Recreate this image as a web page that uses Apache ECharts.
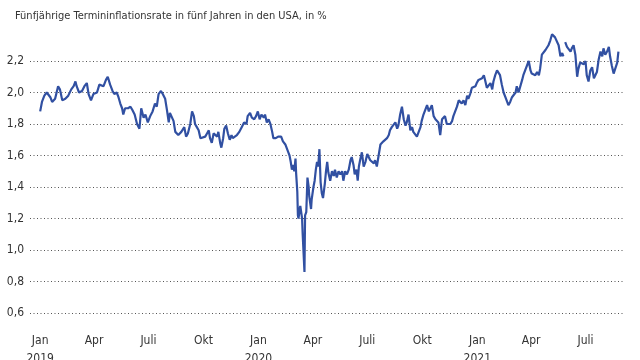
<!DOCTYPE html>
<html><head><meta charset="utf-8">
<script src="https://cdn.jsdelivr.net/npm/echarts@6/dist/echarts.min.js"></script>
<style>html,body{margin:0;padding:0;background:#fff}#c{width:640px;height:360px}</style>
</head><body><div id="c"></div>
<script>
const TITLE = 'Fünfjährige Termininflationsrate in fünf Jahren in den USA, in %';
// days after 2019-01-01
const dayOffsets = [0,3,7,11,13,17,20,22,25,30,33,37,42,47,52,56,59,61,65,70,74,78,81,85,89,95,99,102,106,110,113,117,121,124,128,131,134,137,139,142,147,151,154,158,162,166,169,173,176,180,184,188,192,195,198,202,205,209,212,215,217,220,223,226,229,231,236,239,241,244,247,251,254,257,259,262,265,268,271,276,279,282,284,287,290,293,296,298,301,303,306,308,311,314,317,320,322,325,329,333,337,341,345,347,351,354,358,361,364,367,370,374,376,379,382,385,388,390,394,398,400,403,406,410,413,415,417,419,421,423,425,427,428,430,431,432,434,435,438,439,442,443,445,447,449,450,453,454,457,459,461,463,465,467,469,471,473,476,478,480,482,485,488,491,493,496,499,502,505,507,510,513,516,519,521,524,526,529,531,533,535,538,541,544,547,549,552,555,558,560,563,566,569,572,574,577,580,583,585,588,591,594,597,599,602,605,608,611,613,616,619,622,624,627,630,633,636,638,641,644,647,650,652,655,658,661,664,666,669,672,675,677,680,683,686,689,691,694,697,700,703,705,708,711,714,716,719,722,725,728,730,733,736,739,742,744,747,750,753,756,758,761,764,767,769,772,775,778,781,783,786,789,792,795,797,800,803,806,808,811,814,817,820,822,825,828,831,834,836,839,842,845,848,850,853,856,859,861,864,867,870,873,875,876,878,881,884,887,889,892,895,898,900,903,906,909,912,914,917,920,923,926,928,931,934,937,940,942,945,948,951,953,956,959,962,965,967];
const rate = [1.88,1.94,1.98,2.00,2.00,1.97,1.94,1.93,1.96,2.04,2.02,1.95,1.96,1.98,2.02,2.04,2.07,2.04,2.00,2.01,2.04,2.06,1.99,1.95,1.99,2.00,2.05,2.06,2.04,2.08,2.10,2.05,2.01,1.99,2.00,1.97,1.93,1.90,1.86,1.90,1.90,1.91,1.89,1.86,1.80,1.77,1.90,1.84,1.86,1.81,1.85,1.88,1.93,1.91,1.99,2.01,1.99,1.96,1.89,1.81,1.87,1.88,1.82,1.75,1.76,1.73,1.75,1.74,1.78,1.72,1.74,1.80,1.88,1.85,1.80,1.78,1.76,1.71,1.71,1.72,1.74,1.76,1.71,1.68,1.74,1.73,1.72,1.75,1.68,1.65,1.71,1.77,1.79,1.74,1.70,1.73,1.71,1.72,1.73,1.75,1.78,1.81,1.80,1.85,1.87,1.84,1.83,1.85,1.88,1.83,1.86,1.84,1.86,1.81,1.83,1.80,1.75,1.71,1.71,1.72,1.73,1.72,1.69,1.67,1.66,1.62,1.60,1.56,1.51,1.54,1.50,1.58,1.49,1.37,1.22,1.20,1.26,1.28,1.20,1.10,0.86,1.22,1.24,1.46,1.40,1.34,1.26,1.32,1.40,1.44,1.51,1.56,1.53,1.64,1.43,1.36,1.33,1.42,1.50,1.56,1.49,1.44,1.50,1.47,1.51,1.46,1.50,1.48,1.50,1.44,1.50,1.48,1.51,1.57,1.59,1.54,1.48,1.51,1.44,1.53,1.57,1.62,1.53,1.56,1.61,1.62,1.57,1.58,1.55,1.57,1.53,1.60,1.67,1.67,1.69,1.70,1.71,1.73,1.76,1.78,1.77,1.81,1.77,1.79,1.86,1.91,1.83,1.79,1.81,1.86,1.76,1.78,1.75,1.74,1.72,1.75,1.78,1.82,1.86,1.87,1.92,1.88,1.89,1.92,1.85,1.83,1.84,1.81,1.73,1.83,1.84,1.85,1.80,1.79,1.80,1.82,1.85,1.86,1.91,1.95,1.96,1.93,1.95,1.92,1.98,1.96,1.99,2.03,2.03,2.04,2.06,2.08,2.07,2.09,2.11,2.08,2.03,2.02,2.06,2.02,2.07,2.11,2.14,2.13,2.11,2.05,2.00,1.97,1.96,1.92,1.94,1.97,1.97,2.00,2.04,2.00,2.01,2.08,2.11,2.14,2.13,2.20,2.14,2.12,2.13,2.11,2.13,2.11,2.15,2.24,2.25,2.27,2.26,2.30,2.33,2.37,2.36,2.35,2.34,2.30,2.23,2.25,2.23,null,2.32,2.29,2.28,2.26,2.28,2.30,2.24,2.10,2.15,2.19,2.20,2.18,2.20,2.11,2.07,2.14,2.16,2.09,2.10,2.13,2.21,2.26,2.23,2.28,2.24,2.26,2.29,2.23,2.17,2.12,2.12,2.19,2.26];
// month starts as days after 2019-01-01
const tickDays = [0,90,181,273,365,456,547,639,731,821,912];
const tickLabels = ['Jan\n2019','Apr','Juli','Okt','Jan\n2020','Apr','Juli','Okt','Jan\n2021','Apr','Juli'];

const FONT = "'Liberation Sans Narrow','DejaVu Sans Condensed','Arial Narrow',sans-serif";
const data = dayOffsets.map((d,i)=>[d, rate[i]]);

const chart = echarts.init(document.getElementById('c'), null, {renderer:'canvas'});
chart.setOption({
  animation:false,
  backgroundColor:'#fff',
  title:{text:TITLE,left:10,top:6,textStyle:{fontFamily:FONT,fontSize:11,fontWeight:'normal',color:'#333'}},
  grid:{left:30,right:15,top:29.5,bottom:47,containLabel:false,outerBoundsMode:'none'},
  xAxis:{type:'value',min:-17,max:978,
    axisLine:{show:false},axisTick:{show:false},splitLine:{show:false},
    axisLabel:{customValues:tickDays,formatter:function(v){const i=tickDays.indexOf(v);return i>=0?tickLabels[i]:'';},
      margin:19,lineHeight:18,fontFamily:FONT,fontSize:12,color:'#333',hideOverlap:false,verticalAlign:'top'}},
  yAxis:{type:'value',min:0.6,max:2.4,interval:0.2,
    axisLine:{show:false},axisTick:{show:false},
    splitLine:{show:true,showMaxLine:false,lineStyle:{type:[1,2.5],color:'#555',width:1}},
    axisLabel:{margin:6,fontFamily:FONT,fontSize:12,color:'#333',
      formatter:function(v){return v>2.3?'':v.toFixed(1).replace('.',',');}}},
  series:[{type:'line',data:data,showSymbol:false,connectNulls:false,
    lineStyle:{color:'#3150a2',width:2.2},itemStyle:{color:'#3150a2'}}]
});
</script></body></html>
